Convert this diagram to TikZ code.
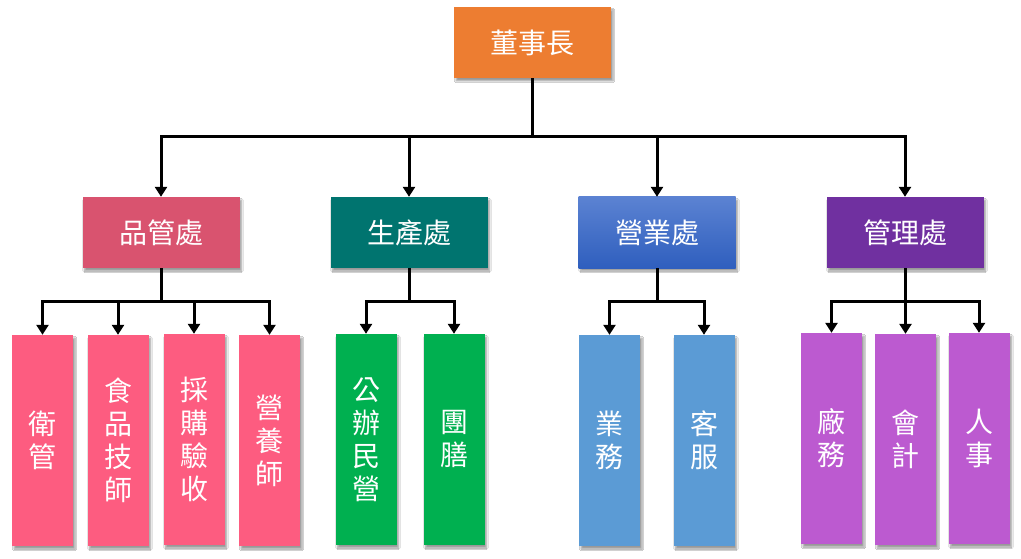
\documentclass[tikz,border=0pt]{standalone}
\usepackage{fontspec}
\newfontfamily\cjk{Noto Sans CJK TC}
\usetikzlibrary{arrows.meta,shadows,shadows.blur}
\definecolor{cOrange}{HTML}{ED7D31}
\definecolor{cQC}{HTML}{D9536F}
\definecolor{cQCk}{HTML}{FD5C80}
\definecolor{cProd}{HTML}{00746F}
\definecolor{cProdk}{HTML}{00B050}
\definecolor{cSalesT}{HTML}{5B82D2}
\definecolor{cSalesB}{HTML}{2F5FBE}
\definecolor{cSalesk}{HTML}{5B9BD5}
\definecolor{cMgmt}{HTML}{7030A0}
\definecolor{cMgmtk}{HTML}{BC5AD0}
\tikzset{
  box/.style={inner sep=0pt, text=white, font=\cjk\fontsize{28}{33}\selectfont,
    align=center, blur shadow={shadow xshift=2pt, shadow yshift=-3pt, shadow blur steps=6, shadow opacity=40}},
  headbox/.style={box, minimum width=157pt, minimum height=71pt},
  leafbox/.style={box, minimum width=61pt, minimum height=211pt},
  conn/.style={line width=3pt, line cap=butt, line join=miter},
  arr/.style={conn, -{Triangle[width=12pt,length=10pt]}}
}
\begin{document}
\begin{tikzpicture}[x=1pt,y=-1pt]
\useasboundingbox[fill=white] (0,0) rectangle (1021,559);
% top
\node[headbox, fill=cOrange] (ceo) at (532.5,42.5) {董事長};
% level 2
\node[headbox, fill=cQC] (qc) at (161,232.5) {品管處};
\node[headbox, fill=cProd] (prod) at (409,232.5) {生產處};
\node[headbox, top color=cSalesT, bottom color=cSalesB] (sales) at (657,232.5) {營業處};
\node[headbox, fill=cMgmt] (mgmt) at (905,232.5) {管理處};
% level 3
\node[leafbox, fill=cQCk] (q1) at (42.5,440.5) {衛\\管};
\node[leafbox, fill=cQCk] (q2) at (118,440.5) {食\\品\\技\\師};
\node[leafbox, fill=cQCk] (q3) at (194,439.5) {採\\購\\驗\\收};
\node[leafbox, fill=cQCk] (q4) at (269.5,440.5) {營\\養\\師};
\node[leafbox, fill=cProdk] (p1) at (366,439.5) {公\\辦\\民\\營};
\node[leafbox, fill=cProdk] (p2) at (454,439.5) {團\\膳};
\node[leafbox, fill=cSalesk] (s1) at (609.5,440.5) {業\\務};
\node[leafbox, fill=cSalesk] (s2) at (704,440.5) {客\\服};
\node[leafbox, fill=cMgmtk] (m1) at (831.5,438.5) {廠\\務};
\node[leafbox, fill=cMgmtk] (m2) at (905.5,439.5) {會\\計};
\node[leafbox, fill=cMgmtk] (m3) at (979,438.5) {人\\事};
% buses
\coordinate (bus0) at (0,137);
\coordinate (bus1) at (0,301);
\foreach \c in {qc,prod,sales,mgmt}
  \draw[arr] (ceo.south) -- (ceo.south |- bus0) -| (\c.north);
\foreach \c in {q1,q2,q3,q4}
  \draw[arr] (qc.south) -- (qc.south |- bus1) -| (\c.north);
\foreach \c in {p1,p2}
  \draw[arr] (prod.south) -- (prod.south |- bus1) -| (\c.north);
\foreach \c in {s1,s2}
  \draw[arr] (sales.south) -- (sales.south |- bus1) -| (\c.north);
\foreach \c in {m1,m2,m3}
  \draw[arr] (mgmt.south) -- (mgmt.south |- bus1) -| (\c.north);
\end{tikzpicture}
\end{document}
